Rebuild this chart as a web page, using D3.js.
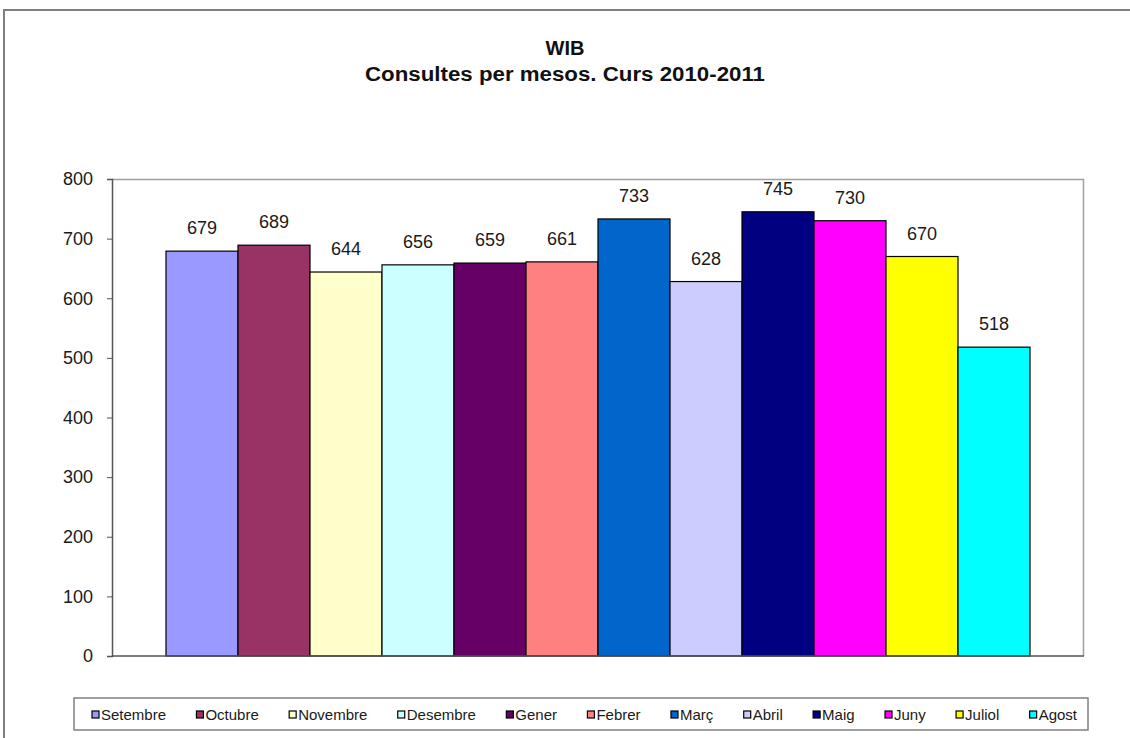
<!DOCTYPE html>
<html>
<head>
<meta charset="utf-8">
<script src="https://cdn.jsdelivr.net/npm/d3@7"></script>
<style>
  body { margin: 0; background: #fff; }
  svg { display: block; font-family: "Liberation Sans", Arial, sans-serif; }
</style>
</head>
<body>
<svg id="chart" width="1130" height="738"></svg>
<script>
// data
const months = ["Setembre", "Octubre", "Novembre", "Desembre", "Gener", "Febrer",
                "Març", "Abril", "Maig", "Juny", "Juliol", "Agost"]
const consultes = [679, 689, 644, 656, 659, 661, 733, 628, 745, 730, 670, 518]
const colors = ["#9999FF", "#993366", "#FFFFCC", "#CCFFFF", "#660066", "#FF8080",
                "#0066CC", "#CCCCFF", "#000080", "#FF00FF", "#FFFF00", "#00FFFF"]
const yTicks = [0, 100, 200, 300, 400, 500, 600, 700, 800]
const titleLines = ["WIB", "Consultes per mesos. Curs 2010-2011"]

const svg = d3.select("#chart")
const margin = {top: 179, right: 46, bottom: 82, left: 112}
const width = 1130, height = 738
const innerWidth = width - margin.left - margin.right
const innerHeight = height - margin.top - margin.bottom

// outer chart frame (runs off the right and bottom edge)
svg.append("path")
   .attr("d", `M4,${height + 5} L4,10 L${width + 5},10`)
   .attr("fill", "none")
   .attr("stroke", "#7f7f7f")
   .attr("stroke-width", 2)

// title - the original is a tall, narrow bold face
const title = svg.append("g")
title.selectAll("text").data(titleLines).join("text")
   .attr("x", 565)
   .attr("y", (d, i) => i ? 81 : 55)
   .attr("text-anchor", "middle")
   .attr("font-size", 20).attr("font-weight", "bold").attr("fill", "#111")
   .text(d => d)
title.selectAll("text").filter((d, i) => i == 1)
   .attr("textLength", 400).attr("lengthAdjust", "spacingAndGlyphs")

const g = svg.append("g").attr("transform", `translate(${margin.left},${margin.top})`)

const y = d3.scaleLinear().domain([0, 800]).range([innerHeight, 0])
// one category, 12 series, Excel gap width 150%
const x = d3.scaleBand().domain(months).range([0, innerWidth]).paddingInner(0).paddingOuter(0.75)

// plot area frame (top / right grey)
g.append("path")
 .attr("d", `M0,0.5 H${innerWidth - 0.5} V${innerHeight}`)
 .attr("fill", "none").attr("stroke", "#a0a0a0").attr("stroke-width", 1.5)

// bars
g.selectAll("rect.bar").data(consultes).join("rect")
 .attr("class", "bar")
 .attr("x", (d, i) => x(months[i]))
 .attr("y", d => y(d))
 .attr("width", x.bandwidth())
 .attr("height", d => innerHeight - y(d))
 .attr("fill", (d, i) => colors[i])
 .attr("stroke", "#000").attr("stroke-width", 1.2)

// value labels
g.selectAll("text.val").data(consultes).join("text")
 .attr("class", "val")
 .attr("x", (d, i) => x(months[i]) + x.bandwidth() / 2)
 .attr("y", d => y(d) - 17)
 .attr("text-anchor", "middle")
 .attr("font-size", 18).attr("fill", "#1a1a1a")
 .text(d => d)

// y axis
const yAxis = g.append("g")
  .call(d3.axisLeft(y).tickValues(yTicks).tickSize(5).tickPadding(14))
yAxis.select(".domain").attr("stroke", "#555").attr("stroke-width", 1.5)
yAxis.selectAll(".tick line").attr("stroke", "#555")
yAxis.selectAll(".tick text").attr("font-size", 18).attr("fill", "#1a1a1a")
     .attr("font-family", "Liberation Sans, Arial, sans-serif")

// x axis baseline
g.append("line")
 .attr("x1", 0).attr("x2", innerWidth)
 .attr("y1", innerHeight).attr("y2", innerHeight)
 .attr("stroke", "#555").attr("stroke-width", 1.5)

// legend
const legendW = 1014
const legend = svg.append("g").attr("transform", "translate(74,698)")
legend.append("rect")
  .attr("x", 0).attr("y", 0).attr("width", legendW).attr("height", 32)
  .attr("fill", "#fff").attr("stroke", "#808080").attr("stroke-width", 1.5)

const items = legend.selectAll("g.item").data(months).join("g").attr("class", "item")
items.append("rect")
  .attr("width", 7).attr("height", 7).attr("y", 13)
  .attr("fill", (d, i) => colors[i]).attr("stroke", "#000").attr("stroke-width", 1.2)
items.append("text")
  .attr("x", 9).attr("y", 21.5)
  .attr("font-size", 15).attr("fill", "#1a1a1a")
  .text(d => d)

// spread items so they fill the box like the original
const startX = 18, endX = legendW - 11
const widths = []
items.each(function () { widths.push(9 + d3.select(this).select("text").node().getComputedTextLength()) })
const gap = (endX - startX - d3.sum(widths)) / (months.length - 1)
let cx = startX
items.each(function (d, i) {
  d3.select(this).attr("transform", `translate(${cx},0)`)
  cx += widths[i] + gap
})
</script>
</body>
</html>
